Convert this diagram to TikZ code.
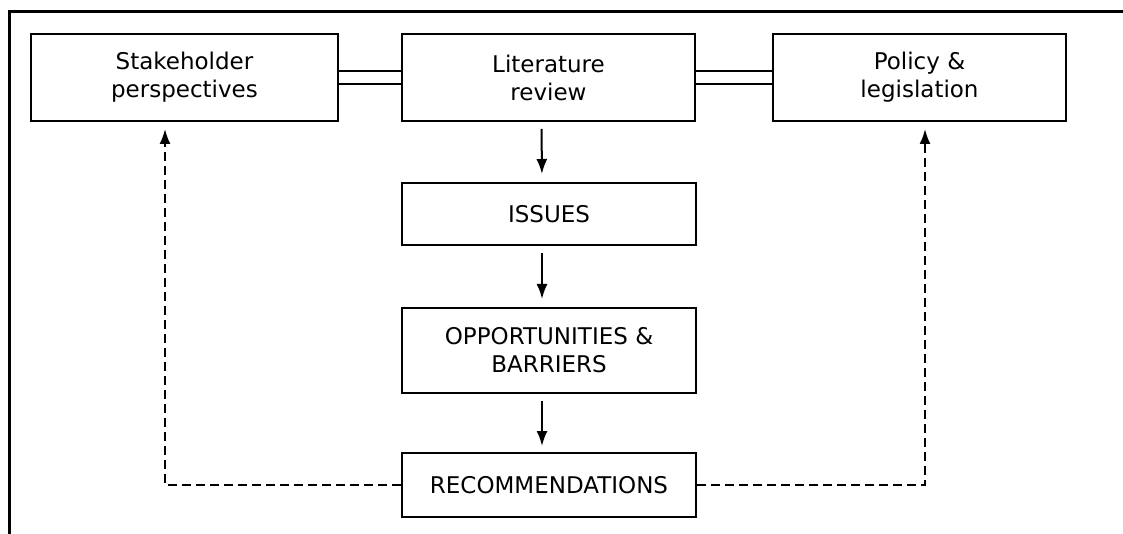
\documentclass[tikz,border=0pt]{standalone}
\usepackage{fontspec}
\setmainfont{DejaVu Sans}
\usetikzlibrary{arrows.meta}
\begin{document}
\begin{tikzpicture}[x=1pt,y=-1pt,
  box/.style={draw,line width=2pt,rectangle,align=center,inner sep=0pt,
    font=\fontsize{23}{28}\selectfont},
  tip/.style={-{Latex[length=15pt,width=11pt]}},
  arr/.style={line width=2pt,tip},
  darr/.style={line width=2pt,dash pattern=on 9pt off 5pt,tip},
  dbl/.style={line width=2pt,double,double distance=11pt}]
\useasboundingbox (0,0) rectangle (1123,534);
\draw[line width=3pt] (9,534) -- (9,12) -- (1123,12);
\node[box,minimum width=307pt,minimum height=87pt] (sh) at (184.5,77.5) {Stakeholder\\perspectives};
\node[box,minimum width=293pt,minimum height=87pt] (lit) at (548.5,77.5) {Literature\\review};
\node[box,minimum width=293pt,minimum height=87pt] (pol) at (919.5,77.5) {Policy \&\\legislation};
\node[box,minimum width=294pt,minimum height=62pt] (iss) at (549,214) {ISSUES};
\node[box,minimum width=294pt,minimum height=85pt] (opp) at (549,350.5) {OPPORTUNITIES \&\\BARRIERS};
\node[box,minimum width=294pt,minimum height=64pt] (rec) at (549,485) {RECOMMENDATIONS};
\draw[dbl] (sh.east) -- (lit.west);
\draw[dbl] (lit.east) -- (pol.west);
\draw[arr,shorten <=7pt,shorten >=8pt] ([xshift=-7pt]lit.south) -- ([xshift=-7pt]iss.north);
\draw[arr,shorten <=7pt,shorten >=8pt] ([xshift=-7pt]iss.south) -- ([xshift=-7pt]opp.north);
\draw[arr,shorten <=7pt,shorten >=6pt] ([xshift=-7pt]opp.south) -- ([xshift=-7pt]rec.north);
\coordinate (lx) at (165,0);
\coordinate (rx) at (925,0);
\draw[darr,shorten >=7pt] (rec.west) -| (lx |- sh.south);
\draw[darr,shorten >=7pt] (rec.east) -| (rx |- pol.south);
\end{tikzpicture}
\end{document}
